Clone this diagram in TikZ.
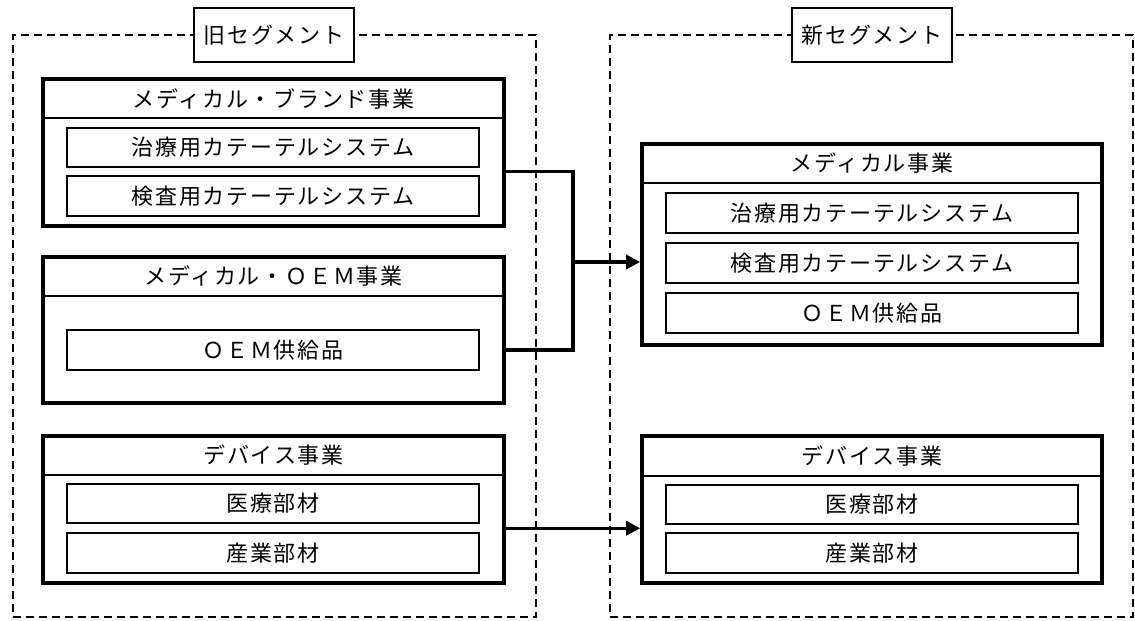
\documentclass[tikz,border=0pt]{standalone}
\usepackage{fontspec}
\setmainfont{Noto Sans CJK JP}
\newfontfamily\jp[LetterSpace=8]{Noto Sans CJK JP}
\usetikzlibrary{arrows.meta,calc}
\tikzset{
  segbox/.style={draw, line width=2.6pt, dash pattern=on 8pt off 5pt, rectangle, inner sep=0pt},
  titlebox/.style={draw, line width=2.4pt, fill=white, rectangle, minimum width=160pt, minimum height=54pt, inner sep=0pt, font=\jp\fontsize{22}{26}\selectfont},
  bizbox/.style={draw, line width=3.6pt, rectangle, inner sep=0pt},
  itembox/.style={draw, line width=2.4pt, rectangle, minimum width=412pt, minimum height=39.5pt, inner sep=0pt, font=\jp\fontsize{22}{26}\selectfont},
  header/.style={inner sep=0pt, font=\jp\fontsize{22}{26}\selectfont},
  divider/.style={line width=2.4pt},
  conn/.style={line width=3.4pt},
  arr/.style={line width=3.4pt, -{Triangle[length=14pt,width=14pt]}}
}
\begin{document}
\begin{tikzpicture}[x=1pt,y=-1pt]
\fill[white] (0,0) rectangle (1135,621);
\useasboundingbox (0,0) rectangle (1135,621);
% segment containers
\node[segbox, minimum width=523pt, minimum height=582pt] (oldseg) at (274.5,326) {};
\node[segbox, minimum width=523pt, minimum height=582pt] (newseg) at (871.5,326) {};
\node[titlebox] (oldt) at (274,35) {旧セグメント};
\node[titlebox] (newt) at (872,35) {新セグメント};
% old: medical brand
\node[bizbox, minimum width=461pt, minimum height=147pt] (b1) at (273.5,152.5) {};
\node[header] (b1h) at (273.5,98.5) {メディカル・ブランド事業};
\coordinate (b1d) at (0,118);
\draw[divider] (b1.west |- b1d) -- (b1.east |- b1d);
\node[itembox] (b1a) at (273,147.5) {治療用カテーテルシステム};
\node[itembox] (b1b) at (273,196) {検査用カテーテルシステム};
% old: medical OEM
\node[bizbox, minimum width=461pt, minimum height=146pt] (b2) at (273.5,330) {};
\node[header] (b2h) at (273.5,276.5) {メディカル・ＯＥＭ事業};
\coordinate (b2d) at (0,296);
\draw[divider] (b2.west |- b2d) -- (b2.east |- b2d);
\node[itembox] (b2a) at (273,350) {ＯＥＭ供給品};
% old: device
\node[bizbox, minimum width=461pt, minimum height=147pt] (b3) at (273.5,509.5) {};
\node[header] (b3h) at (273.5,455.5) {デバイス事業};
\coordinate (b3d) at (0,475);
\draw[divider] (b3.west |- b3d) -- (b3.east |- b3d);
\node[itembox] (b3a) at (273,503.5) {医療部材};
\node[itembox] (b3b) at (273,553) {産業部材};
% new: medical
\node[bizbox, minimum width=460pt, minimum height=201pt] (n1) at (872,244.5) {};
\node[header] (n1h) at (872,163.5) {メディカル事業};
\coordinate (n1d) at (0,183);
\draw[divider] (n1.west |- n1d) -- (n1.east |- n1d);
\node[itembox] (n1a) at (872,213) {治療用カテーテルシステム};
\node[itembox] (n1b) at (872,263) {検査用カテーテルシステム};
\node[itembox] (n1c) at (872,313) {ＯＥＭ供給品};
% new: device
\node[bizbox, minimum width=460pt, minimum height=147pt] (n2) at (872,509.5) {};
\node[header] (n2h) at (872,456) {デバイス事業};
\coordinate (n2d) at (0,476);
\draw[divider] (n2.west |- n2d) -- (n2.east |- n2d);
\node[itembox] (n2a) at (872,504.5) {医療部材};
\node[itembox] (n2b) at (872,553) {産業部材};
% connectors
\coordinate (g1) at ($(b1a.south)!0.5!(b1b.north)$);
\coordinate (g3) at ($(b3a.south)!0.5!(b3b.north)$);
\coordinate (jt) at (573,0);
\coordinate (jm) at (573,262);
\draw[conn] (b1.east |- g1) -- (jt |- g1) -- (jt |- b2a) -- (b2.east |- b2a);
\draw[arr] (jm) -- (n1.west |- jm);
\draw[arr] (b3.east |- g3) -- (n2.west |- g3);
\end{tikzpicture}
\end{document}
